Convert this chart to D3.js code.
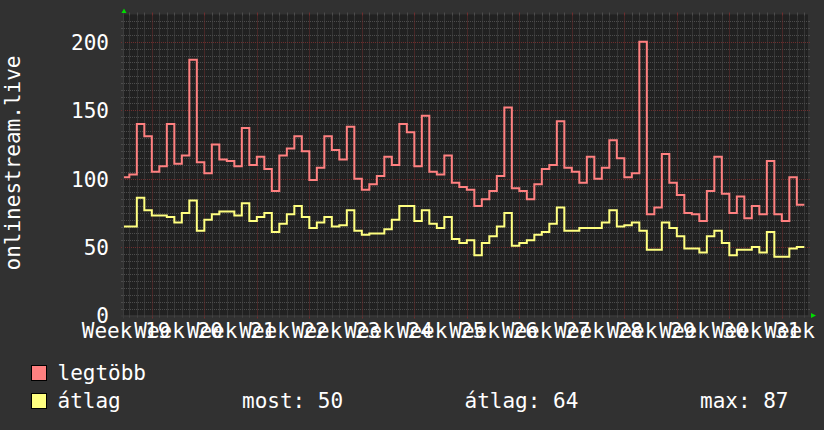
<!DOCTYPE html>
<html>
<head>
<meta charset="utf-8">
<script src="https://cdn.jsdelivr.net/npm/d3@7"></script>
<style>
  html, body { margin: 0; padding: 0; background: #313131; }
  svg { display: block; }
  text { font-family: 'DejaVu Sans Mono', monospace; fill: #ffffff; }
</style>
</head>
<body>
<svg id="chart" width="824" height="430"></svg>
<script>
// ---- data (one value per day, starting Thursday 2023-05-11, UTC) ----
const startDay = "2023-05-11";
const maxValues = [101,103,140,131,105,109,140,111,117,187,112,104,125,114,113,109,137,110,116,107,
  91,117,122,131,120,99,108,131,121,114,138,100,92,96,102,116,110,140,134,109,
  146,105,103,117,97,94,92,80,85,91,102,152,93,91,85,96,107,110,142,108,
  105,97,116,100,108,128,115,101,104,200,74,79,118,97,88,75,74,69,91,116,
  89,75,87,71,80,74,113,74,69,101,81];
const avgValues = [65,65,86,77,73,73,72,68,75,84,62,70,74,76,76,73,82,69,72,75,
  61,67,74,80,72,64,68,72,65,66,77,62,59,60,60,63,70,80,80,69,
  77,67,64,72,56,53,55,44,53,58,65,75,51,53,55,59,61,67,79,62,
  62,64,64,64,68,77,65,66,68,62,48,48,68,64,58,49,49,46,58,62,
  53,44,48,48,50,46,61,43,43,49,50];
const seriesNames = ["legtöbb", "átlag"];
const seriesColors = ["#ff8080", "#ffff80"];
const statLabels = ["most: 50", "átlag: 64", "max: 87"];
const yTicks = [0, 50, 100, 150, 200];
const weekLabels = ["Week 19","Week 20","Week 21","Week 22","Week 23","Week 24","Week 25",
  "Week 26","Week 27","Week 28","Week 29","Week 30","Week 31","Week 32"];
const firstWeekMonday = "2023-05-08";
const yTitle = "onlinestream.live";

// ---- layout ----
const svg = d3.select("#chart");
const W = 824, H = 430;
const X0 = 124, X1 = 808, YT = 14.5, YB = 315.5;

const t0 = new Date(Date.UTC(2023, 4, 11, 6, 57));
const t1 = new Date(Date.UTC(2023, 7, 10, 11, 44));
const x = d3.scaleUtc().domain([t0, t1]).range([X0, X1]);
const y = d3.scaleLinear().domain([0, 220]).range([YB, YT]);

svg.append("rect").attr("width", W).attr("height", H).attr("fill", "#313131");
svg.append("rect").attr("x", X0).attr("y", YT).attr("width", X1 - X0).attr("height", YB - YT).attr("fill", "#212121");

const grid = svg.append("g");
const minorCol = "#4c4c4c", majorCol = "#6e2e2e";

// minor vertical (days)
const days = d3.utcDay.range(t0, t1);
const mondays = d3.utcMonday.range(t0, t1);
const isMonday = d => d.getUTCDay() === 1;
grid.selectAll(".vmin").data(days.filter(d => !isMonday(d))).join("line")
  .attr("x1", d => Math.round(x(d)) + 0.5).attr("x2", d => Math.round(x(d)) + 0.5)
  .attr("y1", YT).attr("y2", YB).attr("stroke", minorCol).attr("stroke-dasharray", "1,1");
// minor horizontal (every 5)
const yMinor = d3.range(5, 220, 5).filter(v => v % 50 !== 0);
grid.selectAll(".hmin").data(yMinor).join("line")
  .attr("x1", X0).attr("x2", X1 + 2)
  .attr("y1", d => Math.round(y(d)) + 0.5).attr("y2", d => Math.round(y(d)) + 0.5)
  .attr("stroke", minorCol).attr("stroke-dasharray", "1,1");
// ticks for minor lines
grid.selectAll(".vminT").data(days.filter(d => !isMonday(d))).join("path")
  .attr("d", d => { const px = Math.round(x(d)) + 0.5; return `M${px},${YT - 2}V${YT + 1}M${px},${YB}V${YB + 2}`; })
  .attr("stroke", minorCol);
grid.selectAll(".hminT").data(yMinor).join("path")
  .attr("d", d => { const py = Math.round(y(d)) + 0.5; return `M${X0 - 3},${py}H${X0}M${X1},${py}H${X1 + 2}`; })
  .attr("stroke", minorCol);
// major vertical (weeks)
grid.selectAll(".vmaj").data(mondays).join("line")
  .attr("x1", d => Math.round(x(d)) + 0.5).attr("x2", d => Math.round(x(d)) + 0.5)
  .attr("y1", YT).attr("y2", YB).attr("stroke", majorCol).attr("stroke-dasharray", "1,1");
grid.selectAll(".vmajT").data(mondays).join("path")
  .attr("d", d => { const px = Math.round(x(d)) + 0.5; return `M${px},${YT - 2}V${YT + 1}M${px},${YB}V${YB + 3}`; })
  .attr("stroke", majorCol);
// major horizontal
grid.selectAll(".hmaj").data(yTicks.filter(v => v > 0)).join("line")
  .attr("x1", X0 - 3).attr("x2", X1 + 2)
  .attr("y1", d => Math.round(y(d)) + 0.5).attr("y2", d => Math.round(y(d)) + 0.5)
  .attr("stroke", majorCol).attr("stroke-dasharray", "1,1");

// ---- series ----
const start = new Date(startDay + "T00:00:00Z");
function toPoints(vals) {
  const pts = vals.map((v, i) => ({ t: d3.utcDay.offset(start, i), v }));
  pts.push({ t: d3.utcDay.offset(start, vals.length), v: vals[vals.length - 1] });
  return pts;
}
svg.append("clipPath").attr("id", "clip").append("rect")
  .attr("x", X0).attr("y", YT - 5).attr("width", X1 - X0).attr("height", YB - YT + 10);
const line = d3.line().x(d => x(d.t)).y(d => y(d.v)).curve(d3.curveStepAfter);
const plot = svg.append("g").attr("clip-path", "url(#clip)");
[maxValues, avgValues].forEach((vals, i) => {
  plot.append("path").datum(toPoints(vals)).attr("d", line)
    .attr("fill", "none").attr("stroke", seriesColors[i]).attr("stroke-width", 2)
    .attr("stroke-linejoin", "miter");
});

// ---- axes ----
svg.append("path").attr("d", `M${X0 - 3},${YB + 0.5}H${X1 + 4}`).attr("stroke", "#3c3c3c");
svg.append("path").attr("d", `M${X0 - 0.5},${YB + 3}V${YT - 3}`).attr("stroke", "#3c3c3c");
svg.append("path").attr("d", `M${X1 + 3},${YB - 2.5}L${X1 + 8},${YB}L${X1 + 3},${YB + 2.5}Z`).attr("fill", "#00dd00");
svg.append("path").attr("d", `M${X0 - 2.5},${YT - 1.5}L${X0},${YT - 6}L${X0 + 2.5},${YT - 1.5}Z`).attr("fill", "#00dd00");

const yAxis = d3.axisLeft(y).tickValues(yTicks).tickSize(0).tickPadding(0).tickFormat(d3.format("d"));
const gy = svg.append("g").attr("transform", `translate(${X0 - 15},0)`).call(yAxis);
gy.select(".domain").remove();
gy.selectAll("text").attr("font-size", 21).attr("fill", "#fff").attr("dy", "0.35em")
  .style("font-family", "'DejaVu Sans Mono', monospace");

const weekMid = weekLabels.map((_, i) => d3.utcHour.offset(d3.utcDay.offset(new Date(firstWeekMonday + "T00:00:00Z"), 7 * i), 84));
const xAxis = d3.axisBottom(x).tickValues(weekMid).tickSize(0).tickPadding(0)
  .tickFormat((d, i) => weekLabels[i]);
const gx = svg.append("g").attr("transform", `translate(0,${YB})`).call(xAxis);
gx.select(".domain").remove();
gx.selectAll("text").attr("font-size", 21).attr("fill", "#fff").attr("dy", null).attr("y", 22.5)
  .style("font-family", "'DejaVu Sans Mono', monospace");

// y title
svg.append("text").attr("transform", "translate(20,163) rotate(-90)")
  .attr("text-anchor", "middle").attr("font-size", 21).text(yTitle);

// ---- legend ----
const legY = [380, 408];
seriesNames.forEach((n, i) => {
  svg.append("rect").attr("x", 31.5).attr("y", legY[i] - 14.5).attr("width", 15).attr("height", 15)
    .attr("fill", seriesColors[i]).attr("stroke", "#000").attr("stroke-width", 1);
  svg.append("text").attr("x", 57.5).attr("y", legY[i]).attr("font-size", 21).text(n);
});
const statX = [242, 464.5, 700];
statLabels.forEach((s, i) => {
  svg.append("text").attr("x", statX[i]).attr("y", legY[1]).attr("font-size", 21).text(s);
});
</script>
</body>
</html>
